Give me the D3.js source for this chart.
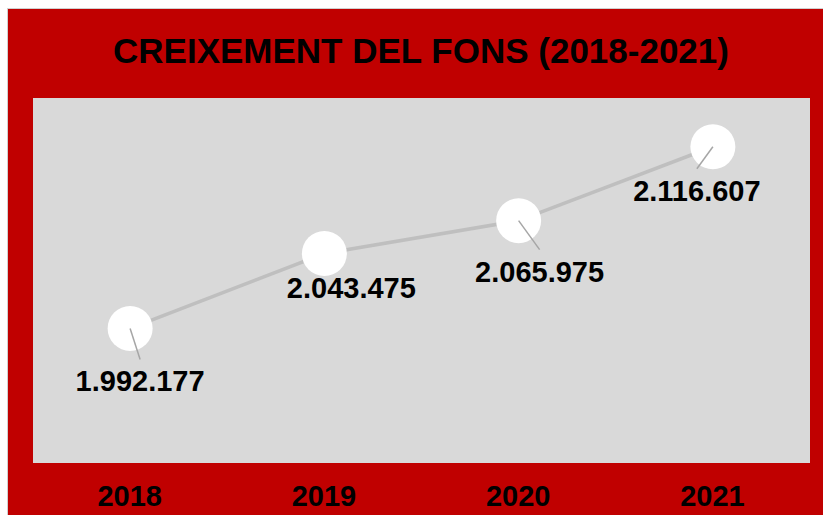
<!DOCTYPE html>
<html>
<head>
<meta charset="utf-8">
<script src="https://cdn.jsdelivr.net/npm/d3@7"></script>
<style>
  body { margin: 0; background: #fff; }
  svg { display: block; font-family: "Liberation Sans", Arial, sans-serif; }
</style>
</head>
<body>
<script>
// chart data
const years = ['2018', '2019', '2020', '2021'];
const fons = [1992177, 2043475, 2065975, 2116607];
const valueLabels = ['1.992.177', '2.043.475', '2.065.975', '2.116.607'];
const title = 'CREIXEMENT DEL FONS (2018-2021)';

// where each data label sits, relative to its point (layout only)
const labelDx = [10, 27, 21, -16];
const labelDy = [63, 44, 61, 54];
const showLeader = [true, false, true, true];

const W = 823, H = 515;
const plot = { left: 33, right: 810, top: 98, bottom: 463 };

const svg = d3.select('body').append('svg')
    .attr('width', W)
    .attr('height', H);

// outer frame
svg.append('rect')
    .attr('x', 7.5).attr('y', 8.5)
    .attr('width', W).attr('height', H)
    .attr('fill', '#c00000')
    .attr('stroke', '#d0d0d0')
    .attr('stroke-width', 1);

svg.append('text')
    .attr('x', 421).attr('y', 63)
    .attr('text-anchor', 'middle')
    .attr('font-size', 35)
    .attr('font-weight', 'bold')
    .attr('fill', '#000')
    .text(title);

// plot area
svg.append('rect')
    .attr('x', plot.left).attr('y', plot.top)
    .attr('width', plot.right - plot.left)
    .attr('height', plot.bottom - plot.top)
    .attr('fill', '#d9d9d9');

const x = d3.scalePoint()
    .domain(years)
    .range([plot.left, plot.right])
    .padding(0.5);

const y = d3.scaleLinear()
    .domain([1900000, 2150000])
    .range([plot.bottom, plot.top]);

const pts = years.map((yr, i) => ({ year: yr, v: fons[i], label: valueLabels[i], i }));

// x axis, labels only
const xAxis = svg.append('g')
    .attr('transform', `translate(0,${plot.bottom})`)
    .call(d3.axisBottom(x).tickSize(0).tickPadding(0));
xAxis.select('.domain').remove();
xAxis.selectAll('text')
    .attr('y', 43)
    .attr('dy', null)
    .attr('dx', -1)
    .attr('font-size', 29)
    .attr('font-weight', 'bold')
    .attr('font-family', '"Liberation Sans", Arial, sans-serif')
    .attr('fill', '#000');

// line
svg.append('path')
    .datum(pts)
    .attr('d', d3.line().x(d => x(d.year)).y(d => y(d.v)))
    .attr('fill', 'none')
    .attr('stroke', '#bfbfbf')
    .attr('stroke-width', 3.5);

svg.selectAll('.dot')
    .data(pts)
    .enter().append('circle')
    .attr('class', 'dot')
    .attr('cx', d => x(d.year))
    .attr('cy', d => y(d.v))
    .attr('r', 22.5)
    .attr('fill', '#fff');

// leader lines
svg.selectAll('.leader')
    .data(pts.filter(d => showLeader[d.i]))
    .enter().append('line')
    .attr('class', 'leader')
    .attr('x1', d => x(d.year))
    .attr('y1', d => y(d.v))
    .attr('x2', d => x(d.year) + labelDx[d.i])
    .attr('y2', d => y(d.v) + labelDy[d.i] - 32)
    .attr('stroke', '#a6a6a6')
    .attr('stroke-width', 1.5);

svg.selectAll('.vlabel')
    .data(pts)
    .enter().append('text')
    .attr('class', 'vlabel')
    .attr('x', d => x(d.year) + labelDx[d.i])
    .attr('y', d => y(d.v) + labelDy[d.i])
    .attr('text-anchor', 'middle')
    .attr('font-size', 29)
    .attr('font-weight', 'bold')
    .attr('fill', '#000')
    .text(d => d.label);
</script>
</body>
</html>
